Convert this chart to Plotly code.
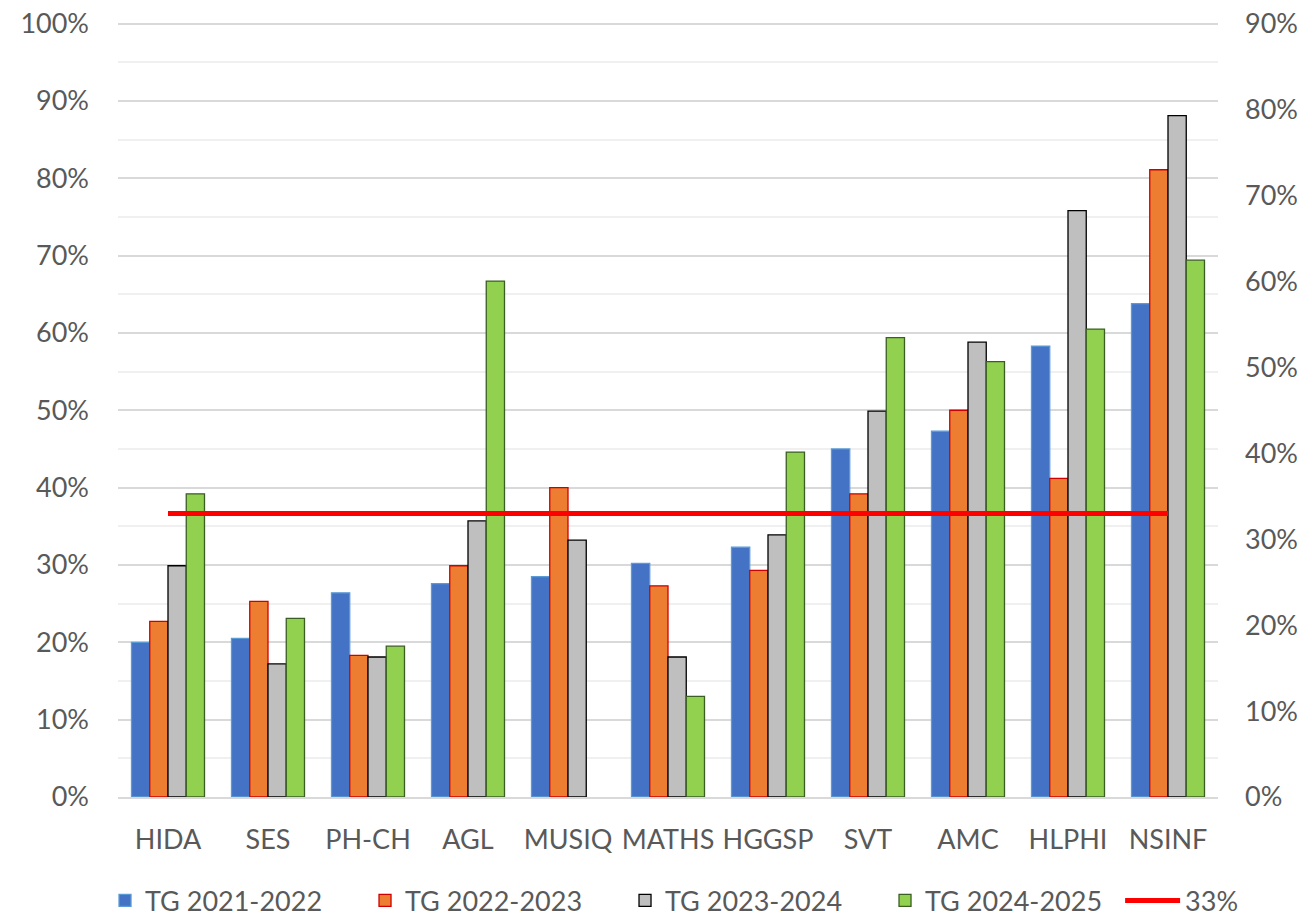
import plotly.graph_objects as go

categories = ["HIDA", "SES", "PH-CH", "AGL", "MUSIQ", "MATHS", "HGGSP", "SVT", "AMC", "HLPHI", "NSINF"]
tg_2021_2022 = [0.200, 0.205, 0.264, 0.276, 0.285, 0.302, 0.323, 0.450, 0.473, 0.583, 0.638]
tg_2022_2023 = [0.227, 0.253, 0.183, 0.299, 0.400, 0.273, 0.293, 0.392, 0.500, 0.412, 0.811]
tg_2023_2024 = [0.299, 0.172, 0.181, 0.357, 0.332, 0.181, 0.339, 0.499, 0.588, 0.758, 0.881]
tg_2024_2025 = [0.392, 0.231, 0.195, 0.667, None, 0.130, 0.446, 0.594, 0.563, 0.605, 0.694]
seuil = [0.33] * len(categories)

series_names = ["TG 2021-2022", "TG 2022-2023", "TG 2023-2024", "TG 2024-2025"]
fills = ["#4472C4", "#ED7D31", "#BFBFBF", "#92D050"]
borders = ["#5B9BD5", "#D00000", "#000000", "#3B5E23"]
series = [tg_2021_2022, tg_2022_2023, tg_2023_2024, tg_2024_2025]

fig = go.Figure()
for name, vals, fc, bc in zip(series_names, series, fills, borders):
    fig.add_trace(go.Bar(
        x=categories, y=vals, name=name,
        marker=dict(color=fc, line=dict(color=bc, width=1.3)),
        legend="legend",
    ))

fig.add_trace(go.Scatter(
    x=categories, y=seuil, name="33%", mode="lines",
    line=dict(color="#FF0000", width=5), yaxis="y2",
    legend="legend2",
))

font_family = "Lato, Open Sans, sans-serif"
legend_font = dict(size=27, color="#595959", family=font_family)

fig.update_layout(
    width=1309, height=915,
    paper_bgcolor="white", plot_bgcolor="white",
    margin=dict(l=110, r=99, t=14, b=126, autoexpand=False),
    barmode="group", bargap=0.27, bargroupgap=0,
    font=dict(family=font_family, color="#595959"),
    showlegend=True,
    legend=dict(orientation="h", x=-0.0118, xanchor="left", y=-0.134, yanchor="middle",
                font=legend_font, traceorder="normal",
                itemwidth=30, entrywidth=215, entrywidthmode="pixels"),
    legend2=dict(orientation="h", x=0.911, xanchor="left", y=-0.134, yanchor="middle",
                 font=legend_font, itemwidth=55),
    xaxis=dict(
        tickfont=dict(size=27, color="#595959"),
        showline=True, linecolor="#D9D9D9", linewidth=1.5,
        ticks="", showgrid=False, automargin=False,
        ticklabelstandoff=18,
    ),
    yaxis=dict(
        range=[0, 1.002], tick0=0, dtick=0.1, tickformat=".0%",
        tickfont=dict(size=27, color="#595959"),
        showgrid=True, gridcolor="#D9D9D9", gridwidth=1.5,
        minor=dict(tick0=0, dtick=0.05, showgrid=True, gridcolor="#F0F0F0", gridwidth=1.5),
        zeroline=False, showline=False, ticks="", automargin=False,
        ticklabelstandoff=28, ticklabeloverflow="allow",
    ),
    yaxis2=dict(
        range=[0, 0.9018], tick0=0, dtick=0.1, tickformat=".0%",
        tickfont=dict(size=27, color="#595959"),
        overlaying="y", side="right", showgrid=False, zeroline=False,
        showline=False, ticks="", ticklabelstandoff=26, automargin=False,
        ticklabeloverflow="allow",
    ),
)

fig.write_html("out.html")
